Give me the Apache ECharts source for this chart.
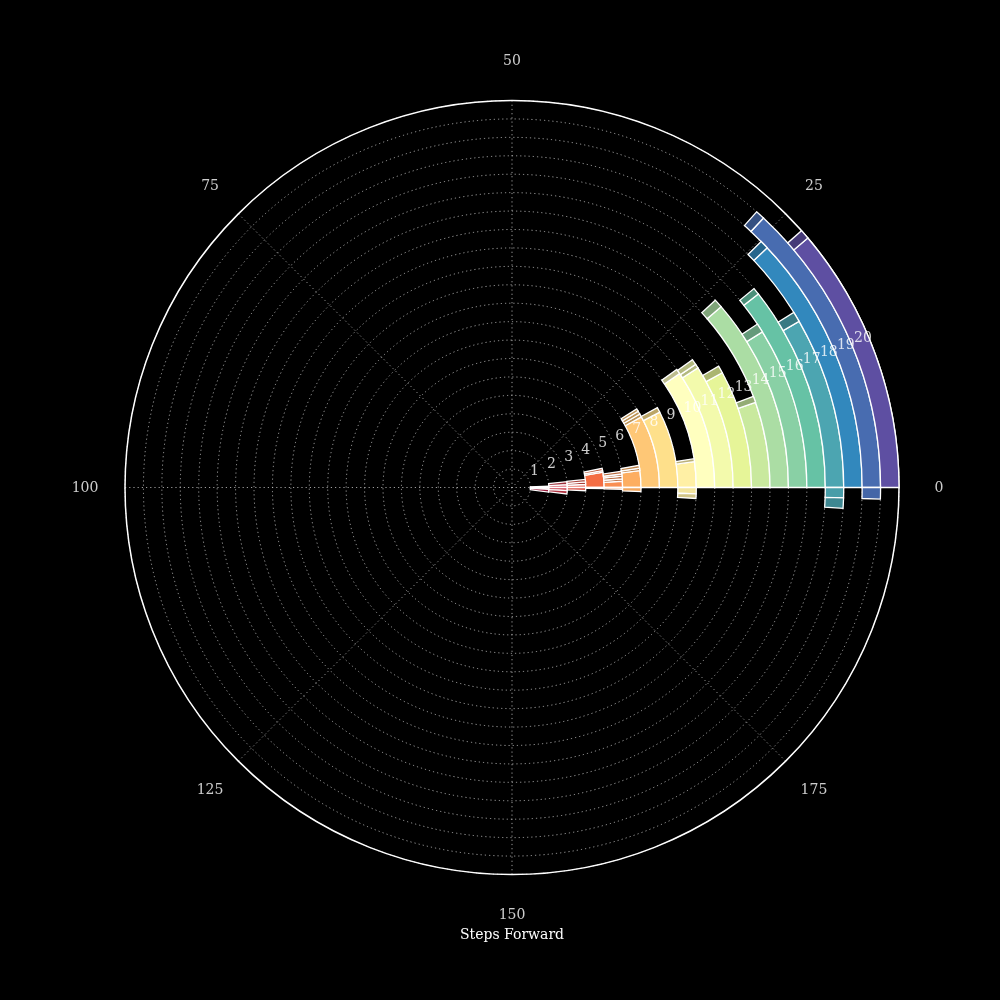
<!DOCTYPE html>
<html><head><meta charset="utf-8">
<script src="https://cdn.jsdelivr.net/npm/echarts@6/dist/echarts.min.js"></script>
<style>html,body{margin:0;background:#000}#c{width:1000px;height:1000px}</style>
</head><body><div id="c"></div><script>
// ---------------- data ----------------
const steps = ['1','2','3','4','5','6','7','8','9','10','11','12','13','14','15','16','17','18','19','20'];
// angular extent of stacked segments per step (angle-axis units, 0..200 = full turn)
const positiveSegments = [
  [1.2],
  [1.7, 1.7],
  [1.3, 1.1, 1.1],
  [5.3, 0.6, 0.8],
  [1.8, 0.7, 0.8, 0.6, 0.8],
  [4.2, 0.6, 0.7],
  [15.9, 0.7, 0.7, 0.6],
  [15.0, 1.0],
  [4.5, 0.5],
  [19.0, 0.8],
  [18.2, 0.6, 0.8],
  [15.9, 1.0],
  [10.7, 0.8],
  [22.7, 1.0],
  [17.7, 1.0],
  [21.2, 0.7],
  [16.7, 1.0],
  [24.0, 0.8],
  [26.1, 0.8],
  [22.3, 0.8]
];
// segments below zero, listed from the zero line outward
const negativeSegments = [
  [-1.5, -2.5],
  [-1.8, -1.9],
  [-1.4],
  [-0.4],
  [-0.5],
  [-1.0],
  [],
  [],
  [-1.1, -0.8],
  [],
  [],
  [],
  [],
  [],
  [],
  [],
  [-1.0, -1.0],
  [],
  [-1.0],
  []
];
const angleTicks = [0, 25, 50, 75, 100, 125, 150, 175];
const angleMax = 200;
const xLabel = 'Steps Forward';

// ---------------- styling helpers ----------------
const spectralStops = ['#9e0142','#d53e4f','#f46d43','#fdae61','#fee08b','#ffffbf','#e6f598','#abdda4','#66c2a5','#3288bd','#5e4fa2'];
function hexToRgb(h){return [parseInt(h.slice(1,3),16),parseInt(h.slice(3,5),16),parseInt(h.slice(5,7),16)];}
function spectral(t){
  t = Math.max(0, Math.min(1, t));
  const p = t * (spectralStops.length - 1);
  const i = Math.min(Math.floor(p), spectralStops.length - 2);
  const f = p - i;
  const a = hexToRgb(spectralStops[i]), b = hexToRgb(spectralStops[i+1]);
  return [0,1,2].map(c => a[c] + (b[c] - a[c]) * f);
}
function ringColor(catIndex, shade){
  const c = spectral(catIndex / steps.length);
  return 'rgb(' + c.map(v => Math.round(v * shade)).join(',') + ')';
}

const FONT = 'DejaVu Serif';
const radiusCats = [''].concat(steps);
const series = [];
const border = { borderColor: '#ffffff', borderWidth: 1.3 };
const maxPos = Math.max(...positiveSegments.map(a => a.length));
const maxNeg = Math.max(...negativeSegments.map(a => a.length));
for (let j = 0; j < maxPos; j++) {
  const shade = j === 0 ? 1 : 0.74;
  series.push({
    type: 'bar', coordinateSystem: 'polar', polarIndex: 0, stack: 'pos',
    barWidth: '100%', silent: true, z: 3,
    data: ['-'].concat(positiveSegments.map(a => j < a.length ? a[j] : '-')),
    itemStyle: Object.assign({ color: p => ringColor(p.dataIndex, shade) }, border)
  });
}
// negative part: a mirror polar whose angle axis runs clockwise from the zero line
for (let j = 0; j < maxNeg; j++) {
  const shade = j === 0 ? 0.95 : 0.82;
  series.push({
    type: 'bar', coordinateSystem: 'polar', polarIndex: 2, stack: 'neg',
    barWidth: '100%', silent: true, z: 3,
    data: ['-'].concat(negativeSegments.map(a => j < a.length ? Math.abs(a[j]) : '-')),
    itemStyle: Object.assign({ color: p => ringColor(p.dataIndex, shade) }, border)
  });
}
// step number labels
const LABEL_ANGLE = 12.4;
series.push({
  type: 'scatter', coordinateSystem: 'polar', polarIndex: 0, symbolSize: 0, silent: true, z: 5,
  data: steps.map((s, i) => [i + 1, LABEL_ANGLE]),
  label: { show: true, position: 'inside', align: 'left', verticalAlign: 'middle', offset: [-7.5, -6],
    formatter: p => steps[p.dataIndex], color: '#ffffff', fontFamily: FONT, fontSize: 14 }
});
// angle tick labels
series.push({
  type: 'scatter', coordinateSystem: 'polar', polarIndex: 1, symbolSize: 0, silent: true, z: 5,
  data: angleTicks.map(t => [1, t]),
  label: { show: true, position: 'inside', align: 'center', verticalAlign: 'middle', offset: [0, 1],
    formatter: p => String(angleTicks[p.dataIndex]), color: '#ffffff', fontFamily: FONT, fontSize: 14 }
});

const dotted = { type: [1.2, 3], color: 'rgba(210,210,210,0.75)', width: 1 };
const hiddenAxis = { axisLine: { show: false }, axisTick: { show: false }, axisLabel: { show: false }, splitLine: { show: false } };
const option = {
  backgroundColor: '#000000',
  animation: false,
  title: { text: xLabel, left: 507, textAlign: 'center', top: 923,
    textStyle: { color: '#ffffff', fontFamily: FONT, fontSize: 14, fontWeight: 'normal' } },
  polar: [
    { center: [512, 487.5], radius: 387 },
    { center: [512, 487.5], radius: 427 },
    { center: [512, 487.5], radius: 387 }
  ],
  angleAxis: [
    { polarIndex: 0, type: 'value', min: 0, max: angleMax, interval: 25, startAngle: 0, clockwise: false,
      axisLine: { show: true, lineStyle: { color: '#ffffff', width: 1.5 } },
      axisTick: { show: false }, axisLabel: { show: false },
      splitLine: { show: true, lineStyle: dotted }, z: 1 },
    Object.assign({ polarIndex: 1, type: 'value', min: 0, max: angleMax, interval: 25, startAngle: 0, clockwise: false }, hiddenAxis),
    Object.assign({ polarIndex: 2, type: 'value', min: 0, max: angleMax, interval: 25, startAngle: 0, clockwise: true }, hiddenAxis)
  ],
  radiusAxis: [
    { polarIndex: 0, type: 'category', data: radiusCats,
      axisLine: { show: false }, axisTick: { show: false }, axisLabel: { show: false },
      splitLine: { show: true, lineStyle: dotted }, z: 1 },
    Object.assign({ polarIndex: 1, type: 'value', min: 0, max: 1 }, hiddenAxis),
    Object.assign({ polarIndex: 2, type: 'category', data: radiusCats }, hiddenAxis)
  ],
  series: series
};
const chart = echarts.init(document.getElementById('c'), null, { renderer: 'canvas' });
chart.setOption(option);
</script></body></html>
